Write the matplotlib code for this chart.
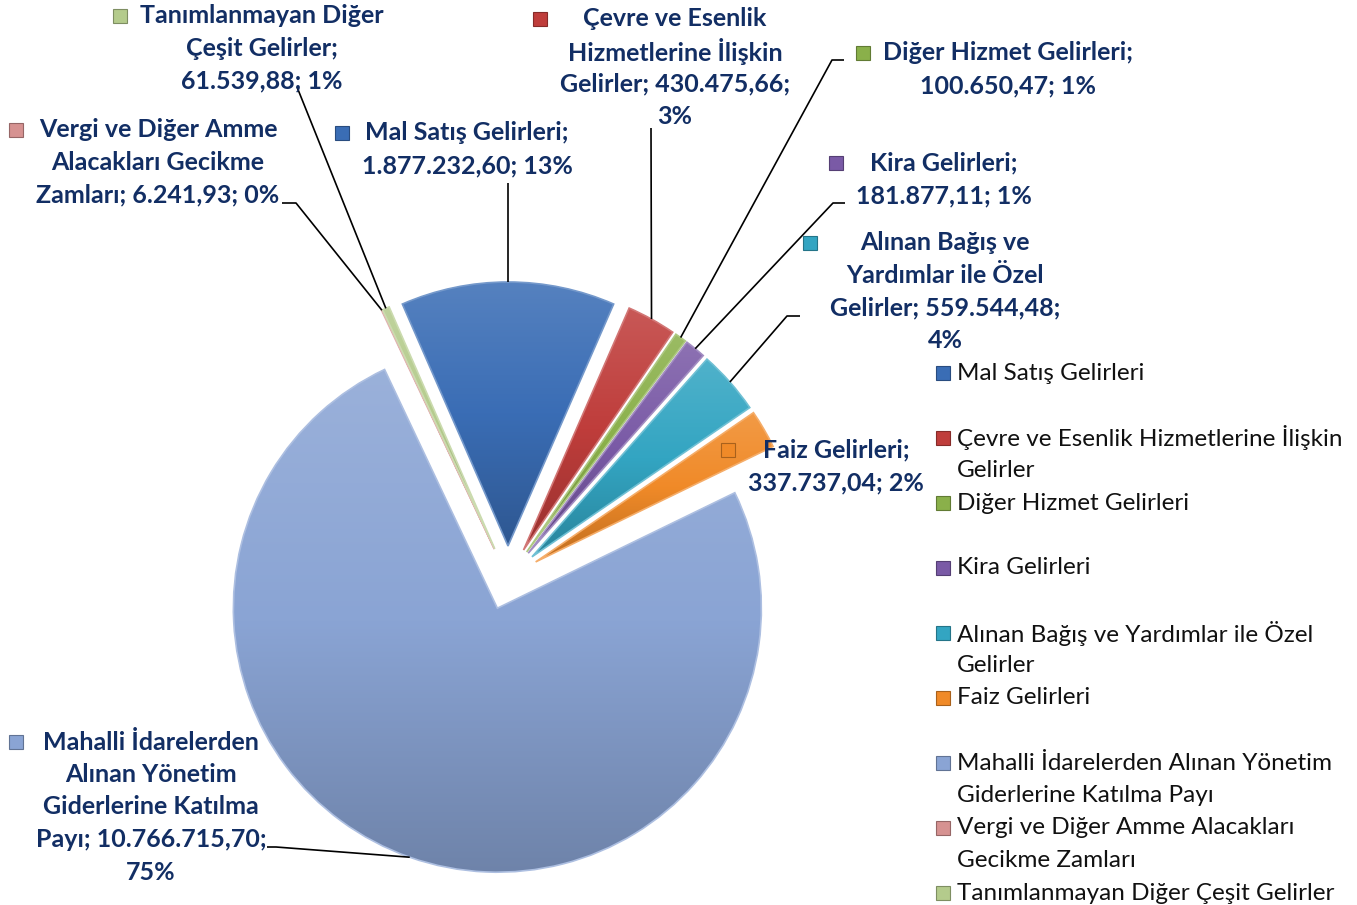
import textwrap

import numpy as np
import matplotlib
matplotlib.use("Agg")
import matplotlib.pyplot as plt
from matplotlib.colors import LinearSegmentedColormap, to_rgb
from matplotlib.patches import Rectangle, PathPatch

plt.rcParams["font.family"] = ["Lato", "DejaVu Sans"]

W, H = 1357, 905

categories = [
    "Mal Satış Gelirleri",
    "Çevre ve Esenlik Hizmetlerine İlişkin Gelirler",
    "Diğer Hizmet Gelirleri",
    "Kira Gelirleri",
    "Alınan Bağış ve Yardımlar ile Özel Gelirler",
    "Faiz Gelirleri",
    "Mahalli İdarelerden Alınan Yönetim Giderlerine Katılma Payı",
    "Vergi ve Diğer Amme Alacakları Gecikme Zamları",
    "Tanımlanmayan Diğer Çeşit Gelirler",
]
values = [1877232.60, 430475.66, 100650.47, 181877.11, 559544.48,
          337737.04, 10766715.70, 6241.93, 61539.88]
colors = ["#3A6DB5", "#BF3D3B", "#8AB04A", "#7A5AA6", "#33A5C2",
          "#F08A28", "#8AA4D4", "#D69291", "#B4CB8C"]

# label layout (pixel coords, y from top): wrap width, centre x, first line y
label_wrap = [20, 21, 23, 16, 21, 16, 20, 21, 20]
label_xy = [(467, 133), (675, 19), (1008, 53), (944, 163), (945, 243),
            (836, 450), (151, 742), (158, 130), (262, 16)]
# leader line start points (+ optional elbow), end is the slice edge
leaders = {
    0: [(508, 183)],
    1: [(651, 128)],
    2: [(844, 60), (832, 60)],
    3: [(845, 203), (833, 203)],
    4: [(800, 316), (787, 316)],
    6: [(267, 847), (276, 847)],
    7: [(282, 203), (296, 203)],
    8: [(297, 87)],
}
LINE = 32.5
LABEL_COLOR = "#122E64"
PIE_C, PIE_R, EXPLODE = (508, 578), 264, 32
LEG_X, LEG_Y0, LEG_SLOT = 943, 373, 65


def py(y):
    return H - y


def tr_num(v):
    return f"{v:,.2f}".replace(",", "X").replace(".", ",").replace("X", ".")


def pct_round(vals):
    """Largest-remainder rounding so the percentages add up to 100."""
    raw = 100.0 * np.asarray(vals) / np.sum(vals)
    out = np.floor(raw).astype(int)
    need = 100 - out.sum()
    for i in np.argsort(-(raw - out))[:need]:
        out[i] += 1
    return out


def shade(c, f):
    r = np.array(to_rgb(c))
    return tuple(r + (1 - r) * f) if f > 0 else tuple(r * (1 + f))


fig = plt.figure(figsize=(W / 100, H / 100), dpi=100)
ax = fig.add_axes([0, 0, 1, 1])

start = 90 + 180.0 * values[0] / sum(values)
# explode is in data units here (= pixels)
wedges, _ = ax.pie(values, explode=[EXPLODE] * len(values), colors=colors,
                   startangle=start, counterclock=False,
                   center=(PIE_C[0], py(PIE_C[1])), radius=PIE_R,
                   wedgeprops={"linewidth": 0})

# gradient fill + light rim, a rough stand-in for the bevelled slices
for w, c in zip(wedges, colors):
    v = w.get_path().vertices
    x0, y0 = v.min(axis=0)
    x1, y1 = v.max(axis=0)
    cmap = LinearSegmentedColormap.from_list("g", [shade(c, 0.14), c, shade(c, -0.2)])
    grad = np.linspace(1, 0, 256).reshape(-1, 1)
    im = ax.imshow(grad, extent=[x0, x1, y0, y1], origin="lower", cmap=cmap,
                   aspect="auto", interpolation="bicubic", zorder=1.5)
    im.set_clip_path(w)
    ax.add_patch(PathPatch(w.get_path(), fill=False, edgecolor=shade(c, 0.3),
                           lw=1.2, zorder=2))

ax.set_xlim(0, W)
ax.set_ylim(0, H)
ax.set_aspect("equal")
ax.axis("off")

pcts = pct_round(values)
fig.canvas.draw()
renderer = fig.canvas.get_renderer()

for i, (name, val) in enumerate(zip(categories, values)):
    text = f"{name}; {tr_num(val)}; {pcts[i]}%"
    lines = textwrap.wrap(text, label_wrap[i])
    cx, y0 = label_xy[i]
    left = 1e9
    for k, ln in enumerate(lines):
        t = ax.text(cx, py(y0 + k * LINE), ln, ha="center", va="center",
                    fontsize=18, fontweight="bold", color=LABEL_COLOR, zorder=5)
        left = min(left, ax.transData.inverted().transform(
            (t.get_window_extent(renderer).x0, 0))[0])
    ax.add_patch(Rectangle((left - 27, py(y0) - 7), 14, 14, facecolor=colors[i],
                           edgecolor=shade(colors[i], -0.3), lw=0.8, zorder=5))

    if i in leaders:
        w = wedges[i]
        mid = np.deg2rad((w.theta1 + w.theta2) / 2)
        end = (w.center[0] + w.r * np.cos(mid), w.center[1] + w.r * np.sin(mid))
        pts = [(x, py(y)) for x, y in leaders[i]] + [end]
        ax.plot([p[0] for p in pts], [p[1] for p in pts], color="black",
                lw=1.2, zorder=4, solid_capstyle="butt")

# legend on the right, one 65 px slot per entry
for i, name in enumerate(categories):
    y = LEG_Y0 + i * LEG_SLOT
    ax.add_patch(Rectangle((LEG_X - 7, py(y) - 7), 14, 14, facecolor=colors[i],
                           edgecolor=shade(colors[i], -0.3), lw=0.8, zorder=5))
    for k, ln in enumerate(textwrap.wrap(name, 37)):
        ax.text(LEG_X + 14, py(y + k * LINE), ln, ha="left", va="center",
                fontsize=17.5, color="#111111", zorder=5)

fig.savefig("out.png", dpi=100)
plt.close(fig)
